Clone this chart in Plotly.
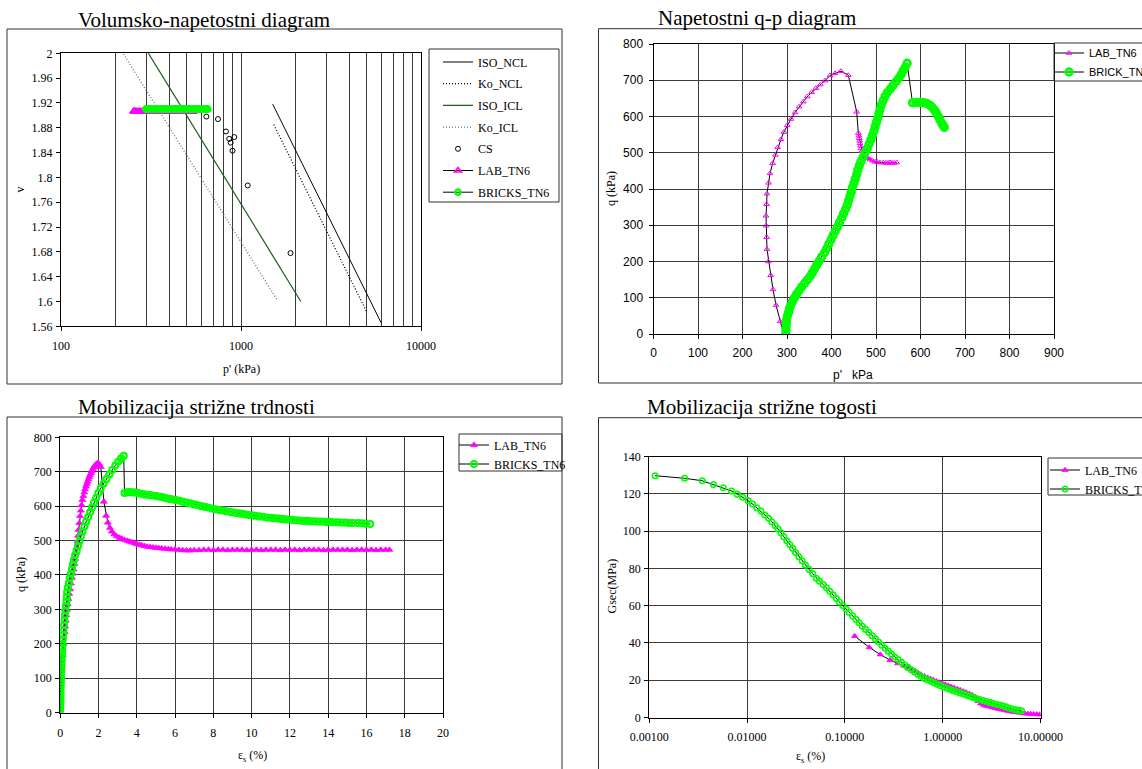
import plotly.graph_objects as go

W, H = 1142, 769
SERIF = "Liberation Serif, Times New Roman, serif"
SANS = "Liberation Sans, Arial, sans-serif"
GRID = "#3c3c3c"
MAGENTA = "#ff00ff"
GREEN = "#00ff00"
DKGREEN = "#1f5c1f"

# ---------------- data: panel 1 (v - p') ----------------
ISO_NCL_P = [1500, 6000]
ISO_NCL_V = [1.918, 1.566]
KO_NCL_P = [1520, 5000]
KO_NCL_V = [1.885, 1.583]
ISO_ICL_P = [300, 2150]
ISO_ICL_V = [2.004, 1.600]
KO_ICL_P = [218, 1600]
KO_ICL_V = [2.003, 1.601]
CS_P = [642, 745, 825, 860, 918, 876, 897, 1090, 1884]
CS_V = [1.898, 1.894, 1.874, 1.862, 1.865, 1.856, 1.843, 1.787, 1.678]
LAB_V = 1.906     # constant specific volume (undrained)
BRICK_V = 1.910
P1_YTICKS = [1.56, 1.6, 1.64, 1.68, 1.72, 1.76, 1.8, 1.84, 1.88, 1.92, 1.96, 2.0]
P1_XTICKS = [100, 1000, 10000]
P1_XTICKTEXT = ["100", "1000", "10000"]
P1_XMINOR = [200, 300, 400, 500, 600, 700, 800, 900,
             2000, 3000, 4000, 5000, 6000, 7000, 8000, 9000]

# ---------------- data: panel 2 (q - p') ----------------
LAB_P = [292.5, 284.3, 275.3, 268.5, 263.3, 258.0, 255.0, 254.3, 252.8, 252.8,
         254.3, 255.0, 258.8, 261.8, 267.8, 273.8, 279.0, 286.5, 293.0, 300.7,
         309.0, 318.0, 327.0, 336.7, 345.7, 355.5, 365.0, 374.9, 385.4, 396.6,
         408.0, 421.3, 437.8, 456.6, 460.3, 461.5, 462.5, 463.3, 464.0, 465.0,
         466.3, 468.5, 471.5, 474.5, 478.0, 482.7, 487.0, 492.0, 497.8, 503.0,
         509.0, 516.4, 522.0, 527.0, 531.5, 536.0, 541.0, 546.5]
LAB_Q = [0, 35, 80, 123, 162, 200, 234, 267, 299, 326,
         358, 387, 417, 443, 471, 494, 515, 537, 557, 576,
         593, 611, 627, 641, 655, 667, 678, 688, 699, 713,
         719, 725, 714, 613, 554, 547, 540, 533, 526, 519,
         512, 505, 498, 492, 488, 485, 481, 478, 475, 474,
         473, 473, 472, 472, 473, 472, 472, 473]
BRICK_P = [297.0, 297.5, 298.0, 298.5, 299.2, 301.0, 303.5, 305.5, 308.5, 312.5, 316.8,
           321.5, 327.5, 333.0, 339.5, 346.5, 352.5, 357.5, 362.0, 366.7, 371.5,
           377.5, 384.0, 389.0, 394.0, 399.0, 403.5, 408.5, 413.5, 418.0, 423.0,
           427.0, 431.5, 435.5, 438.5, 441.5, 444.5, 447.0, 450.5, 453.5, 456.5,
           459.0, 462.5, 466.0, 471.0, 475.5, 480.5, 484.5, 488.5, 492.0, 495.5,
           498.0, 501.0, 504.0,
           506.5, 509.0, 512.0, 516.0,
           520.5, 525.5, 532.0, 538.5, 545.0, 551.5, 556.5, 561.0, 565.5, 570.0,
           582, 590, 599, 607, 614, 620, 625, 630, 633, 636, 640, 644, 648, 651, 653.5]
BRICK_Q = [0, 10, 20, 30, 40, 50, 60, 70, 80, 90, 100,
           110, 120, 130, 140, 150, 160, 170, 180, 190, 200,
           212, 224, 236, 248, 260, 272, 284, 296, 308, 320,
           332, 344, 356, 368, 380, 392, 404, 416, 428, 440,
           452, 464, 476, 488, 500, 512, 524, 536, 548, 560,
           572, 584, 596,
           608, 620, 632, 644,
           656, 666, 676, 686, 696, 706, 716, 726, 736, 747,
           638, 639, 639, 638, 636, 632, 627, 620, 615, 609, 600, 590, 581, 575, 570]

# ---------------- data: panel 3 (q - eps_s) ----------------
L3_E = [0.00, 0.005, 0.012, 0.025, 0.06, 0.13, 0.18, 0.23, 0.26, 0.29,
        0.32, 0.35, 0.39, 0.43, 0.47, 0.52, 0.56, 0.61, 0.66, 0.70,
        0.74, 0.78, 0.82, 0.86, 0.90, 0.93, 0.96, 1.00, 1.04, 1.08,
        1.12, 1.16, 1.21, 1.26, 1.30, 1.35, 1.39, 1.43, 1.48, 1.52,
        1.56, 1.61, 1.65, 1.70, 1.75, 1.79, 1.83, 1.88, 1.93, 1.98,
        2.04, 2.12, 2.28, 2.40, 2.49, 2.60, 2.70, 2.82, 2.96, 3.10,
        3.22, 3.35, 3.50, 3.62, 3.74, 3.88, 4.00, 4.13, 4.26, 4.40,
        4.55, 4.70, 4.85, 5.00, 5.15, 5.30, 5.48, 5.65, 5.80, 6.00,
        6.20, 6.40, 6.60, 6.80, 7.00,
        7.25, 7.5, 7.75, 8.0, 8.25, 8.5, 8.75, 9.0, 9.25, 9.5,
        9.75, 10.0, 10.25, 10.5, 10.75, 11.0, 11.25, 11.5, 11.75, 12.0,
        12.25, 12.5, 12.75, 13.0, 13.25, 13.5, 13.75, 14.0, 14.25, 14.5,
        14.75, 15.0, 15.25, 15.5, 15.75, 16.0, 16.25, 16.5, 16.75, 17.0, 17.2]
L3_Q = [0, 35, 80, 123, 150, 166, 200, 234, 250, 267,
        283, 299, 315, 330, 345, 358, 375, 392, 404, 416,
        432, 447, 463, 480, 497, 514, 531, 551, 571, 587,
        603, 618, 629, 640, 649, 657, 664, 671, 678, 684,
        690, 696, 701, 707, 712, 716, 719, 722, 724, 725,
        722, 714, 613, 572, 552, 537, 526, 518, 512, 508,
        505, 502, 499, 497, 495, 492, 490, 488, 486, 484,
        482, 481, 480, 479, 478, 477, 476, 475, 474, 474,
        473, 472, 471, 471, 472,
        472, 473, 473, 472, 473, 473, 472, 473, 473, 473,
        472, 473, 473, 472, 473, 473, 473, 472, 473, 473,
        473, 472, 473, 473, 473, 473, 472, 473, 473, 473,
        473, 473, 472, 473, 473, 473, 473, 472, 473, 473, 473]
B3_E = [0.000, 0.002, 0.004, 0.006, 0.008, 0.010, 0.013, 0.016, 0.020, 0.025,
        0.030, 0.035, 0.040, 0.046, 0.053, 0.060, 0.068, 0.077, 0.087, 0.098,
        0.110, 0.124, 0.140, 0.157, 0.176, 0.197, 0.220, 0.245, 0.272, 0.300,
        0.33, 0.345, 0.36, 0.40, 0.45, 0.50, 0.56, 0.61, 0.66, 0.72,
        0.78, 0.86, 0.93, 1.00, 1.08, 1.16, 1.26, 1.35, 1.46, 1.56,
        1.66, 1.77, 1.88, 1.99, 2.12, 2.26, 2.42, 2.57, 2.72, 2.88,
        3.03, 3.17, 3.32,
        3.36, 3.50, 3.60, 3.72, 3.85, 4.00, 4.10, 4.25, 4.40, 4.55,
        4.68, 4.82, 5.00, 5.15, 5.25, 5.40, 5.55, 5.70, 5.82, 6.00,
        6.20, 6.39, 6.60, 6.80, 7.00, 7.16, 7.35, 7.55, 7.72, 7.92,
        8.10, 8.30, 8.50, 8.68, 8.90, 9.10, 9.30, 9.45, 9.65, 9.85,
        10.05, 10.20, 10.40, 10.60, 10.80, 10.97, 11.15, 11.35, 11.50, 11.70,
        11.90, 12.10, 12.30, 12.50, 12.70, 12.90, 13.10, 13.30, 13.50, 13.70,
        13.90, 14.10, 14.30, 14.50, 14.70, 14.90, 15.10, 15.30, 15.55, 15.75,
        15.95, 16.20]
B3_Q = [0, 10, 20, 28, 35, 40, 48, 56, 64, 74,
        84, 93, 102, 112, 122, 133, 143, 154, 165, 176,
        188, 200, 213, 226, 240, 254, 268, 282, 296, 310,
        323, 336, 350, 363, 376, 390, 403, 416, 430, 443,
        457, 470, 484, 498, 512, 526, 540, 554, 568, 582,
        596, 610, 624, 638, 652, 665, 679, 692, 705, 718,
        729, 738, 746,
        638, 640, 641, 640, 640, 639, 637, 636, 634, 633,
        632, 631, 629, 628, 627, 625, 623, 621, 620, 618,
        616, 613, 610, 608, 605, 603, 600, 598, 596, 593,
        591, 589, 587, 585, 583, 581, 579, 578, 576, 574,
        573, 572, 570, 569, 567, 566, 565, 564, 563, 562,
        561, 560, 559, 558, 557, 557, 556, 556, 555, 555,
        554, 554, 553, 553, 552, 552, 551, 551, 551, 550,
        549, 548]

# ---------------- data: panel 4 (Gsec - eps_s) ----------------
L4_E = [0.126, 0.178, 0.230, 0.290, 0.348, 0.40, 0.44, 0.48, 0.52, 0.56,
        0.60, 0.65, 0.70, 0.75, 0.80, 0.86, 0.92, 0.99, 1.06, 1.14,
        1.22, 1.31, 1.41, 1.51, 1.62, 1.74, 1.87, 2.00, 2.14, 2.30,
        2.45, 2.62, 2.80, 3.00, 3.22, 3.45, 3.70, 3.97, 4.25, 4.56,
        4.89, 5.24, 5.62, 6.02, 6.46, 6.92, 7.42, 7.96, 8.53, 9.15,
        9.81, 10.5]
L4_G = [43.7, 37.6, 33.8, 30.8, 29.0, 27.8, 26.8, 25.8, 24.9, 24.0,
        23.1, 22.2, 21.4, 20.8, 20.2, 19.5, 18.9, 18.3, 17.7, 17.1,
        16.5, 15.9, 15.3, 14.7, 14.1, 13.5, 12.8, 12.1, 11.1, 8.8,
        7.5, 6.7, 6.2, 5.8, 5.4, 5.0, 4.6, 4.3, 3.9, 3.6,
        3.3, 3.0, 2.8, 2.6, 2.4, 2.2, 2.0, 1.9, 1.8, 1.7,
        1.6, 1.5]
B4_E = [0.00115, 0.0023, 0.00348, 0.00454, 0.00572, 0.00692, 0.00793, 0.00902, 0.01026, 0.01137,
        0.01262, 0.01387, 0.01524, 0.0166, 0.01795, 0.01937, 0.02076, 0.02223, 0.02382, 0.02551,
        0.02733, 0.02926, 0.03133, 0.03388, 0.03658, 0.03952, 0.04307, 0.04694, 0.05117, 0.05500,
        0.060, 0.065, 0.070, 0.076, 0.082, 0.088, 0.095, 0.103, 0.111, 0.120,
        0.130, 0.140, 0.151, 0.163, 0.176, 0.190, 0.205, 0.221, 0.239, 0.258,
        0.279, 0.301, 0.325, 0.351, 0.379, 0.409, 0.442, 0.477, 0.515, 0.556,
        0.600, 0.648, 0.700, 0.756, 0.816, 0.881, 0.951, 1.03, 1.11, 1.20,
        1.29, 1.40, 1.51, 1.63, 1.76, 1.90, 2.05, 2.21, 2.39, 2.58,
        2.79, 3.01, 3.25, 3.51, 3.79, 4.09, 4.42, 4.77, 5.15, 5.56,
        6.00, 6.40]
B4_G = [129.8, 128.4, 127.1, 125.1, 123.3, 121.6, 119.9, 118.2, 116.4, 114.6,
        112.6, 110.8, 108.7, 106.9, 105.1, 103.1, 101.1, 99.2, 97.0, 94.9,
        92.9, 90.8, 88.6, 86.3, 84.1, 81.8, 79.5, 77.2, 74.7, 73.2,
        71.4, 69.6, 67.8, 65.8, 63.9, 62.0, 60.1, 58.2, 56.4, 54.5,
        52.6, 50.8, 49.0, 47.3, 45.6, 43.9, 42.2, 40.5, 38.8, 37.2,
        35.6, 34.0, 32.5, 31.0, 29.6, 28.2, 26.9, 25.6, 24.4, 23.2,
        22.1, 21.0, 20.2, 19.4, 18.6, 17.8, 17.1, 16.4, 15.7, 15.0,
        14.4, 13.8, 13.2, 12.6, 12.0, 11.4, 10.8, 10.2, 9.6, 9.1,
        8.6, 8.1, 7.6, 7.1, 6.7, 6.3, 5.7, 5.1, 4.6, 4.2,
        3.8, 3.6]


# ---------------- helpers (layout, pixel boxes) ----------------
def xdom(x0, x1):
    return [x0 / W, x1 / W]


def ydom(y0, y1):
    return [1 - y1 / H, 1 - y0 / H]


def px(x):
    return x / W


def py(y):
    return 1 - y / H


def ax(font_family=SERIF, grid=True, **kw):
    d = dict(showline=True, linecolor="black", linewidth=1, mirror=True,
             ticks="outside", ticklen=4, tickcolor="black", tickwidth=1,
             showgrid=grid, gridcolor=GRID, gridwidth=1, zeroline=False,
             tickfont=dict(family=font_family, size=12, color="black"),
             fixedrange=True)
    d.update(kw)
    return d


def tri(size, width, filled):
    sym = "triangle-up" if filled else "triangle-up-open"
    return dict(symbol=sym, size=size, color=MAGENTA, line=dict(color=MAGENTA, width=width))


def ring(size, width):
    return dict(symbol="circle-open", size=size, color=GREEN, line=dict(color=GREEN, width=width))


BLACK_LINE = dict(color="black", width=1)

fig = go.Figure()

# ---- panel 1 ----
fig.add_trace(go.Scatter(x=ISO_NCL_P, y=ISO_NCL_V, mode="lines", name="ISO_NCL",
                         line=dict(color="black", width=1), xaxis="x", yaxis="y",
                         legend="legend", legendgroup="a1"))
fig.add_trace(go.Scatter(x=KO_NCL_P, y=KO_NCL_V, mode="lines", name="Ko_NCL",
                         line=dict(color="black", width=1.3, dash="1px,2px"), xaxis="x", yaxis="y",
                         legend="legend", legendgroup="a2"))
fig.add_trace(go.Scatter(x=ISO_ICL_P, y=ISO_ICL_V, mode="lines", name="ISO_ICL",
                         line=dict(color=DKGREEN, width=1.2), xaxis="x", yaxis="y",
                         legend="legend", legendgroup="a3"))
fig.add_trace(go.Scatter(x=KO_ICL_P, y=KO_ICL_V, mode="lines", name="Ko_ICL",
                         line=dict(color="#707070", width=1.3, dash="1px,2px"), xaxis="x", yaxis="y",
                         legend="legend", legendgroup="a4"))
fig.add_trace(go.Scatter(x=CS_P, y=CS_V, mode="markers", name="CS",
                         marker=dict(symbol="circle-open", size=5, color="black",
                                     line=dict(color="black", width=1)),
                         xaxis="x", yaxis="y", legend="legend", legendgroup="a5"))
fig.add_trace(go.Scatter(x=LAB_P, y=[LAB_V] * len(LAB_P), mode="lines+markers", name="LAB_TN6",
                         line=BLACK_LINE, marker=tri(6, 1.6, False), xaxis="x", yaxis="y",
                         legend="legend", legendgroup="a6"))
fig.add_trace(go.Scatter(x=BRICK_P, y=[BRICK_V] * len(BRICK_P), mode="lines+markers", name="BRICKS_TN6",
                         line=BLACK_LINE, marker=ring(5.5, 2.2), xaxis="x", yaxis="y",
                         legend="legend", legendgroup="a7"))

# ---- panel 2 ----
fig.add_trace(go.Scatter(x=LAB_P, y=LAB_Q, mode="lines+markers", name="LAB_TN6",
                         line=BLACK_LINE, marker=tri(5, 1, False), xaxis="x2", yaxis="y2", legend="legend2"))
fig.add_trace(go.Scatter(x=BRICK_P, y=BRICK_Q, mode="lines+markers", name="BRICK_TN6",
                         line=BLACK_LINE, marker=ring(6.5, 2.8), xaxis="x2", yaxis="y2", legend="legend2"))

# ---- panel 3 ----
fig.add_trace(go.Scatter(x=L3_E, y=L3_Q, mode="lines+markers", name="LAB_TN6",
                         line=BLACK_LINE, marker=tri(6, 0.8, True), xaxis="x3", yaxis="y3", legend="legend3"))
fig.add_trace(go.Scatter(x=B3_E, y=B3_Q, mode="lines+markers", name="BRICKS_TN6",
                         line=BLACK_LINE, marker=ring(6, 2.1), xaxis="x3", yaxis="y3", legend="legend3"))

# ---- panel 4 ----
fig.add_trace(go.Scatter(x=L4_E, y=L4_G, mode="lines+markers", name="LAB_TN6",
                         line=BLACK_LINE, marker=tri(5.5, 0.8, True), xaxis="x4", yaxis="y4", legend="legend4"))
fig.add_trace(go.Scatter(x=B4_E, y=B4_G, mode="lines+markers", name="BRICKS_TN6",
                         line=BLACK_LINE, marker=ring(5.5, 1.6), xaxis="x4", yaxis="y4", legend="legend4"))


def legend_at(x, y, family, size, gap=0):
    return dict(x=px(x), y=py(y), xanchor="left", yanchor="top", xref="paper", yref="paper",
                bgcolor="rgba(0,0,0,0)", borderwidth=0, traceorder="grouped",
                tracegroupgap=gap, font=dict(family=family, size=size, color="black"))


def frame(x0, y0, x1, y1, color="#303030"):
    return dict(type="rect", xref="paper", yref="paper", x0=px(x0), x1=px(x1),
                y0=py(y1), y1=py(y0), line=dict(color=color, width=1), layer="above")


def label(text, x, y, family=SERIF, size=12, angle=0, xanchor="center"):
    return dict(text=text, x=px(x), y=py(y), xref="paper", yref="paper", showarrow=False,
                xanchor=xanchor, yanchor="middle", textangle=angle,
                font=dict(family=family, size=size, color="black"))


shapes = [
    frame(7, 29, 562, 384), frame(598.5, 28.7, 1160, 383),
    frame(7, 417, 562, 790), frame(598.5, 417.7, 1160, 790),
    frame(429, 49, 559, 202), frame(1054, 43, 1160, 81),
    frame(459, 434, 562, 471), frame(1048, 458, 1160, 495),
]

annotations = [
    label("Volumsko-napetostni diagram", 76, 20.2, size=21, xanchor="left"),
    label("Napetostni q-p diagram", 656, 17.9, size=21, xanchor="left"),
    label("Mobilizacija strižne trdnosti", 76, 407.2, size=21, xanchor="left"),
    label("Mobilizacija strižne togosti", 645, 407.2, size=21, xanchor="left"),
    label("v", 20, 189.5, angle=-90),
    label("p' (kPa)", 241.8, 369),
    label("q (kPa)", 611, 189, angle=-90),
    label("p'\u00a0\u00a0 kPa", 852.6, 374.5, family=SANS),
    label("q (kPa)", 21, 575, angle=-90),
    label("ε<sub>s</sub> (%)", 252, 755.5),
    label("Gsec(MPa)", 611, 586.5, angle=-90),
    label("ε<sub>s</sub> (%)", 811, 757),
]

fig.update_layout(
    width=W, height=H,
    margin=dict(l=0, r=0, t=0, b=0, autoexpand=False),
    paper_bgcolor="white", plot_bgcolor="white",
    showlegend=True, hovermode=False,
    xaxis=ax(type="log", range=[2, 4], domain=xdom(61, 421), anchor="y",
             tickmode="array", tickvals=P1_XTICKS, ticktext=P1_XTICKTEXT, ticklabelstandoff=4,
             minor=dict(tickmode="array", tickvals=P1_XMINOR, showgrid=True,
                        gridcolor=GRID, gridwidth=1, ticks="")),
    yaxis=ax(grid=False, range=[1.56, 2.0], domain=ydom(53.3, 326.3), anchor="x",
             tickmode="array", tickvals=P1_YTICKS, ticklabelstandoff=1),
    xaxis2=ax(font_family=SANS, range=[0, 900], dtick=100, domain=xdom(653.5, 1054), anchor="y2",
              ticklabelstandoff=4),
    yaxis2=ax(font_family=SANS, range=[0, 800], dtick=100, domain=ydom(44, 334), anchor="x2",
              ticklabelstandoff=3),
    xaxis3=ax(range=[0, 20], dtick=2, domain=xdom(60.2, 443), anchor="y3", ticklabelstandoff=5),
    yaxis3=ax(range=[0, 800], dtick=100, domain=ydom(437.3, 712.5), anchor="x3", ticklabelstandoff=1),
    xaxis4=ax(type="log", range=[-3, 1], dtick=1, tickformat=".5f",
              domain=xdom(649.2, 1040.5), anchor="y4", ticklabelstandoff=4),
    yaxis4=ax(range=[0, 140], dtick=20, domain=ydom(456.7, 717.5), anchor="x4", ticklabelstandoff=1),
    legend=legend_at(438, 47.5, SERIF, 12, gap=2.7),
    legend2=legend_at(1049, 38.5, SANS, 11),
    legend3=legend_at(454, 430.5, SERIF, 12),
    legend4=legend_at(1045, 455.5, SERIF, 12),
    shapes=shapes,
    annotations=annotations,
)

fig.write_html("out.html")
